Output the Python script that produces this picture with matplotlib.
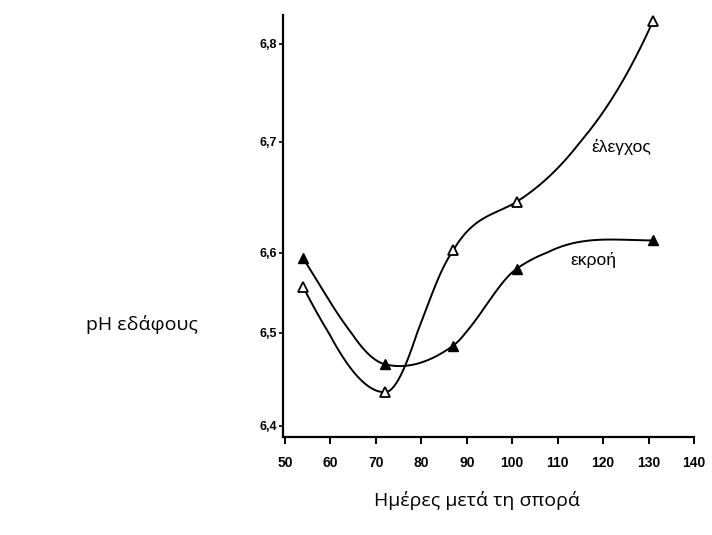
import numpy as np
import matplotlib
matplotlib.use("Agg")
import matplotlib.pyplot as plt

# Days after sowing and soil pH for the two treatments
days = [54, 72, 87, 101, 131]
ph_control = [6.557, 6.436, 6.602, 6.646, 6.823]   # έλεγχος
ph_effluent = [6.593, 6.466, 6.486, 6.580, 6.611]  # εκροή

# Tangent of each drawn curve at the measured points (pH units per day)
slope_control = [-0.011, 0.0, 0.007, 0.0026, 0.0103]
slope_effluent = [-0.009, -0.0012, 0.0035, 0.004, 0.0]

x_ticks = [50, 60, 70, 80, 90, 100, 110, 120, 130, 140]
y_ticks = [6.4, 6.5, 6.6, 6.7, 6.8]
y_ticklabels = ["6,4", "6,5", "6,6", "6,7", "6,8"]

# The printed pH axis is not evenly spaced: relative length of each 0.1 step
y_step_lengths = [93.3, 80.0, 111.0, 98.4]
_yk = np.array(y_ticks)
_yp = np.concatenate([[0.0], np.cumsum(y_step_lengths)])


def _piecewise(v, xs, ys):
    v = np.asarray(v, dtype=float)
    out = np.interp(v, xs, ys)
    s0 = (ys[1] - ys[0]) / (xs[1] - xs[0])
    s1 = (ys[-1] - ys[-2]) / (xs[-1] - xs[-2])
    out = np.where(v < xs[0], ys[0] + (v - xs[0]) * s0, out)
    out = np.where(v > xs[-1], ys[-1] + (v - xs[-1]) * s1, out)
    return out


def ph_forward(v):
    return _piecewise(v, _yk, _yp)


def ph_inverse(p):
    return _piecewise(p, _yp, _yk)


def hermite_curve(x, y, m, xs):
    """Cubic Hermite curve through (x, y) with tangents m."""
    x = np.asarray(x, float)
    y = np.asarray(y, float)
    m = np.asarray(m, float)
    h = np.diff(x)
    idx = np.clip(np.searchsorted(x, xs) - 1, 0, len(x) - 2)
    t = (xs - x[idx]) / h[idx]
    h00 = 2 * t**3 - 3 * t**2 + 1
    h10 = t**3 - 2 * t**2 + t
    h01 = -2 * t**3 + 3 * t**2
    h11 = t**3 - t**2
    return (h00 * y[idx] + h10 * h[idx] * m[idx]
            + h01 * y[idx + 1] + h11 * h[idx] * m[idx + 1])


fig = plt.figure(figsize=(7.12, 5.35), dpi=100)
ax = fig.add_axes([283 / 712, 1 - 437 / 535, 411 / 712, 422 / 535])
ax.set_yscale("function", functions=(ph_forward, ph_inverse))

xs = np.linspace(days[0], days[-1], 500)
ax.plot(xs, hermite_curve(days, ph_control, slope_control, xs),
        color="black", lw=1.4, zorder=2)
ax.plot(xs, hermite_curve(days, ph_effluent, slope_effluent, xs),
        color="black", lw=1.4, zorder=2)
ax.plot(days, ph_control, linestyle="none", marker="^", markersize=6.5,
        markerfacecolor="white", markeredgecolor="black", markeredgewidth=1.3,
        zorder=3)
ax.plot(days, ph_effluent, linestyle="none", marker="^", markersize=6.5,
        markerfacecolor="black", markeredgecolor="black", markeredgewidth=1.0,
        zorder=3)

ax.set_xlim(49.56, 140)
ax.set_ylim(6.388, 6.829)

ax.set_xticks(x_ticks)
ax.set_xticklabels([str(v) for v in x_ticks])
ax.set_yticks(y_ticks)
ax.set_yticklabels(y_ticklabels)
ax.yaxis.set_minor_locator(matplotlib.ticker.NullLocator())
ax.xaxis.set_minor_locator(matplotlib.ticker.NullLocator())

for side in ("top", "right"):
    ax.spines[side].set_visible(False)
for side in ("left", "bottom"):
    ax.spines[side].set_linewidth(1.6)
    ax.spines[side].set_color("black")

ax.tick_params(axis="x", direction="out", length=5, width=1.4, pad=8.5)
ax.tick_params(axis="y", direction="out", length=3, width=1.2, pad=1.5)
for lab in ax.get_xticklabels():
    lab.set_fontfamily(["Liberation Sans", "DejaVu Sans"])
    lab.set_fontweight("bold")
    lab.set_fontsize(10)
for lab in ax.get_yticklabels():
    lab.set_fontfamily(["Liberation Sans", "DejaVu Sans"])
    lab.set_fontweight("bold")
    lab.set_fontsize(9)

ax.text(117.5, 6.6955, "έλεγχος", fontsize=12.5,
        family=["Liberation Sans", "DejaVu Sans"], ha="left", va="center")
ax.text(112.7, 6.591, "εκροή", fontsize=12.5,
        family=["Liberation Sans", "DejaVu Sans"], ha="left", va="center")

fig.text(142 / 712, 1 - 325 / 535, "pH εδάφους", fontsize=14,
         family=["Open Sans", "DejaVu Sans"], ha="center", va="center")
fig.text(477 / 712, 1 - 500 / 535, "Ημέρες μετά τη σπορά", fontsize=14,
         family=["Open Sans", "DejaVu Sans"], ha="center", va="center")

fig.savefig("out.png", dpi=100)
